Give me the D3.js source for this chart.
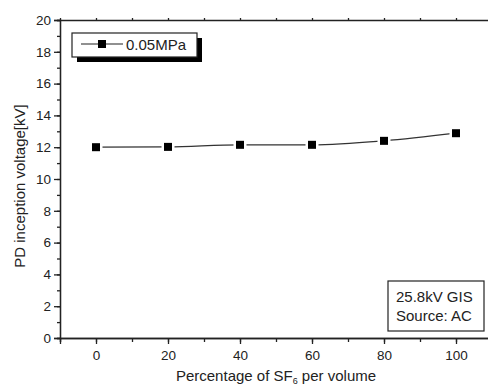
<!DOCTYPE html>
<html>
<head>
<meta charset="utf-8">
<script src="https://cdn.jsdelivr.net/npm/d3@7"></script>
<style>
  body { margin: 0; background: #fff; }
  svg { display: block; font-family: "Liberation Sans", Arial, sans-serif; }
</style>
</head>
<body>
<svg id="chart" width="488" height="387"></svg>
<script>
// data
var sf6Percent = [0, 20, 40, 60, 80, 100];
var inceptionKV = [12.0, 12.02, 12.15, 12.15, 12.4, 12.88];
var xTicks = [0, 20, 40, 60, 80, 100];
var yTicks = [0, 2, 4, 6, 8, 10, 12, 14, 16, 18, 20];
var seriesName = "0.05MPa";
var noteLines = ["25.8kV GIS", "Source: AC"];

var svg = d3.select("#chart"),
    margin = { top: 20, right: -4, bottom: 49, left: 60 },
    width = +svg.attr("width") - margin.left - margin.right,
    height = +svg.attr("height") - margin.top - margin.bottom;

var g = svg.append("g")
    .attr("transform", "translate(" + margin.left + "," + margin.top + ")");

var x = d3.scaleLinear().domain([-10, 110]).range([0, width]);
var y = d3.scaleLinear().domain([0, 20]).range([height, 0]);

// minor ticks first, so the major ones sit on top
g.append("g")
    .attr("class", "axis")
    .attr("transform", "translate(0," + height + ")")
    .call(d3.axisBottom(x).tickValues(d3.range(-10, 111, 10)).tickSize(4).tickFormat(""));

g.append("g")
    .attr("class", "axis")
    .call(d3.axisLeft(y).tickValues(d3.range(0, 21, 1)).tickSize(3).tickFormat(""));

g.append("g")
    .attr("class", "axis")
    .call(d3.axisTop(x).tickValues(d3.range(0, 101, 10)).tickSize(2).tickFormat(""));

var xAxis = g.append("g")
    .attr("class", "axis")
    .attr("transform", "translate(0," + height + ")")
    .call(d3.axisBottom(x).tickValues(xTicks).tickSize(6).tickPadding(6));

var yAxis = g.append("g")
    .attr("class", "axis")
    .call(d3.axisLeft(y).tickValues(yTicks).tickSize(6).tickPadding(3));

svg.selectAll(".axis path, .axis line")
    .attr("stroke", "#222")
    .attr("stroke-width", 1.3);
svg.selectAll(".axis text")
    .attr("fill", "#222")
    .style("font-size", "13.5px")
    .style("font-family", "Liberation Sans, Arial, sans-serif");

// axis titles
svg.append("text")
    .attr("x", 276)
    .attr("y", 381)
    .attr("text-anchor", "middle")
    .style("font-size", "15px")
    .attr("fill", "#222")
    .html('Percentage of SF<tspan dy="3" font-size="9px">6</tspan><tspan dy="-3"> per volume</tspan>');

svg.append("text")
    .attr("transform", "translate(25,186) rotate(-90)")
    .attr("text-anchor", "middle")
    .style("font-size", "15px")
    .attr("fill", "#222")
    .text("PD inception voltage[kV]");

// the curve
var points = sf6Percent.map(function(d, i) { return [d, inceptionKV[i]]; });

var line = d3.line()
    .x(function(d) { return x(d[0]); })
    .y(function(d) { return y(d[1]); })
    .curve(d3.curveMonotoneX);

g.append("path")
    .datum(points)
    .attr("fill", "none")
    .attr("stroke", "#333")
    .attr("stroke-width", 1.2)
    .attr("d", line);

// white halo behind each square leaves the small gap in the line
g.selectAll(".marker")
    .data(points)
  .enter().append("rect")
    .attr("class", "marker")
    .attr("x", function(d) { return x(d[0]) - 4; })
    .attr("y", function(d) { return y(d[1]) - 4; })
    .attr("width", 8)
    .attr("height", 8)
    .attr("fill", "#000")
    .attr("stroke", "#fff")
    .attr("stroke-width", 5)
    .attr("paint-order", "stroke");

// legend with drop shadow
var legend = svg.append("g").attr("transform", "translate(72,33)");
legend.append("rect")
    .attr("x", 5).attr("y", 5)
    .attr("width", 125).attr("height", 24)
    .attr("fill", "#000");
legend.append("rect")
    .attr("width", 125).attr("height", 24)
    .attr("fill", "#fff")
    .attr("stroke", "#222")
    .attr("stroke-width", 1.2);
legend.append("line")
    .attr("x1", 9).attr("x2", 51)
    .attr("y1", 11).attr("y2", 11)
    .attr("stroke", "#222")
    .attr("stroke-width", 1.2);
legend.append("rect")
    .attr("x", 26).attr("y", 7)
    .attr("width", 8).attr("height", 8)
    .attr("fill", "#000");
legend.append("text")
    .attr("x", 54).attr("y", 17)
    .style("font-size", "15px")
    .attr("fill", "#222")
    .text(seriesName);

// note box
var note = svg.append("g").attr("transform", "translate(388,281)");
note.append("rect")
    .attr("width", 96).attr("height", 50)
    .attr("fill", "#fff")
    .attr("stroke", "#222")
    .attr("stroke-width", 1.2);
note.selectAll("text")
    .data(noteLines)
  .enter().append("text")
    .attr("x", 8)
    .attr("y", function(d, i) { return 21 + i * 19; })
    .style("font-size", "15px")
    .attr("fill", "#222")
    .text(function(d) { return d; });
</script>
</body>
</html>
